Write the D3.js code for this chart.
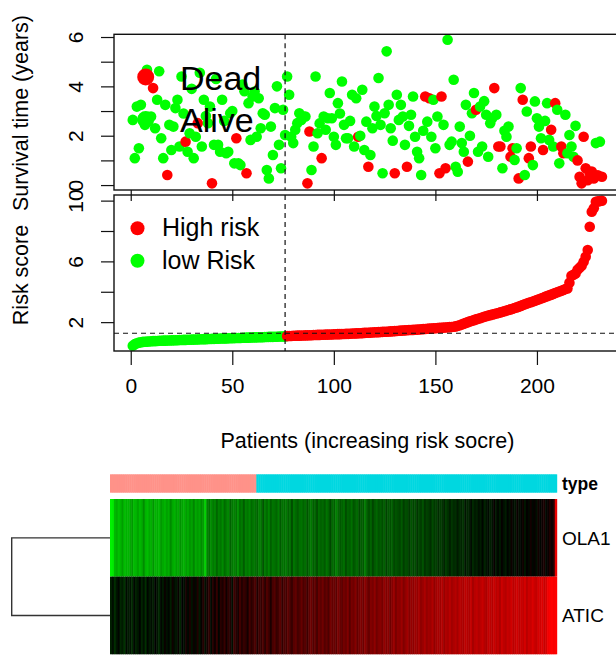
<!DOCTYPE html>
<html>
<head>
<meta charset="utf-8">
<script src="https://cdn.jsdelivr.net/npm/d3@7"></script>
<style>
  body { margin: 0; background: #fff; }
  svg { display: block; }
  text { font-family: "Liberation Sans", Arial, sans-serif; fill: #000; }
</style>
</head>
<body>
<svg id="chart" width="616" height="655"></svg>
<script>
// ---- data: patients sorted by increasing risk score ----
const nLowRisk = 76;
const riskCutoff = 1.27;

// survival time (years) per patient
const survivalTime = [
  2.64,1.09,3.18,1.49,3.25,2.71,2.44,4.67,2.71,2.78,
  3.93,2.30,3.46,4.61,1.90,1.09,3.25,0.41,2.44,1.42,
  2.37,3.12,3.46,1.56,4.40,2.90,1.76,1.35,2.10,3.90,
  1.09,1.96,2.51,4.55,1.56,3.46,2.80,2.51,3.18,0.07,
  1.63,4.30,1.63,1.35,3.46,2.60,1.29,1.35,2.91,3.00,
  0.88,1.90,0.88,0.81,4.07,3.80,0.48,3.32,1.83,3.59,
  3.79,1.96,3.52,2.30,2.91,2.85,0.61,0.27,2.37,1.22,
  3.12,4.00,1.63,0.68,3.05,2.03,
  4.40,3.66,1.96,1.70,2.24,2.51,2.91,2.64,2.78,2.78,
  0.07,2.17,0.61,1.56,4.40,2.10,2.50,1.09,2.78,2.24,
  2.71,3.73,2.71,1.96,1.63,3.32,2.90,4.20,2.44,1.90,
  1.90,2.60,3.66,1.56,3.52,1.96,2.00,3.86,1.42,2.57,
  0.74,1.22,2.30,3.18,2.80,4.34,2.44,0.48,2.91,5.42,
  3.25,2.30,1.80,0.48,3.66,2.64,3.25,2.78,1.63,0.74,
  2.40,2.85,3.59,1.96,1.35,1.09,0.41,2.20,3.59,2.57,
  3.52,1.96,3.46,1.49,2.78,0.48,3.59,2.44,0.68,5.89,
  1.63,1.76,4.27,0.74,0.54,2.37,1.70,1.35,3.25,0.95,
  2.00,2.91,3.73,3.05,1.35,3.18,1.56,3.40,2.85,1.15,
  2.51,2.71,3.93,2.85,1.56,1.56,0.68,2.20,1.96,2.37,
  1.15,1.49,1.02,1.49,0.27,3.93,3.46,0.41,2.98,1.09,
  1.56,0.81,3.39,2.71,2.37,1.90,1.42,2.60,3.32,1.83,
  2.24,1.56,3.32,3.05,0.88,1.56,1.29,2.85,1.29,2.03,
  1.56,1.15,2.40,1.00,0.34,0.07,1.96,0.68,0.20,0.48,
  0.55,0.27,1.70,0.40,1.76,0.34
];

// vital status per patient: 1 = dead, 0 = alive
const deadStatus = [
  0,0,0,0,0,0,0,0,0,0,
  1,0,0,0,0,0,0,1,0,0,
  0,0,0,0,0,0,1,0,0,0,
  0,0,1,0,0,0,0,0,0,1,
  0,0,0,0,0,0,0,0,0,0,
  0,1,0,0,0,0,1,0,0,0,
  0,0,0,0,0,0,0,0,0,0,
  0,0,0,0,0,0,
  0,0,0,0,0,0,0,0,0,0,
  1,1,0,0,0,0,0,1,0,0,
  0,0,0,0,0,0,0,0,0,0,
  0,0,0,0,0,1,0,0,0,0,
  1,0,0,0,0,0,0,0,0,0,
  0,0,0,1,0,0,0,0,0,1,
  0,0,0,0,0,0,0,0,1,0,
  1,0,0,0,0,1,1,0,1,0,
  0,0,0,0,0,0,0,0,0,1,
  0,0,0,1,0,0,0,0,0,0,
  0,0,1,0,1,1,0,0,0,0,
  1,1,0,0,1,0,1,0,0,1,
  1,0,0,0,0,0,1,0,0,0,
  1,0,1,0,0,1,1,0,0,0,
  0,0,0,1,1,1,1,1,1,1,
  1,1,0,1,0,1
];

// risk score per patient (sorted)
const riskScore = [
  0.45,0.55,0.61,0.65,0.68,0.70,0.71,0.72,0.73,0.74,
  0.75,0.75,0.76,0.77,0.77,0.78,0.78,0.79,0.79,0.80,
  0.80,0.81,0.81,0.82,0.82,0.83,0.83,0.84,0.84,0.85,
  0.85,0.86,0.86,0.87,0.87,0.88,0.88,0.89,0.89,0.90,
  0.90,0.91,0.91,0.92,0.92,0.93,0.93,0.94,0.94,0.95,
  0.95,0.96,0.96,0.96,0.97,0.97,0.98,0.98,0.99,0.99,
  1.00,1.00,1.01,1.01,1.01,1.02,1.02,1.03,1.03,1.03,
  1.04,1.04,1.05,1.05,1.05,1.06,
  1.08,1.09,1.09,1.10,1.10,1.11,1.11,1.12,1.12,1.13,
  1.13,1.14,1.14,1.15,1.15,1.16,1.16,1.17,1.17,1.18,
  1.18,1.19,1.19,1.20,1.20,1.21,1.21,1.22,1.22,1.23,
  1.23,1.24,1.25,1.25,1.26,1.27,1.27,1.28,1.29,1.30,
  1.30,1.31,1.32,1.33,1.33,1.34,1.35,1.36,1.37,1.37,
  1.38,1.39,1.40,1.41,1.42,1.43,1.44,1.45,1.46,1.47,
  1.48,1.48,1.49,1.50,1.51,1.52,1.53,1.54,1.55,1.56,
  1.57,1.58,1.59,1.60,1.61,1.62,1.63,1.64,1.65,1.66,
  1.67,1.68,1.70,1.72,1.76,1.80,1.85,1.90,1.95,2.00,
  2.05,2.09,2.13,2.18,2.22,2.26,2.31,2.35,2.39,2.43,
  2.46,2.50,2.53,2.57,2.60,2.64,2.68,2.72,2.76,2.80,
  2.84,2.88,2.93,2.97,3.02,3.07,3.12,3.17,3.22,3.27,
  3.31,3.36,3.41,3.46,3.51,3.56,3.61,3.66,3.71,3.76,
  3.81,3.86,3.92,3.97,4.02,4.07,4.12,4.18,4.22,4.60,
  5.05,5.12,5.20,5.45,5.58,5.72,5.98,6.30,6.75,8.28,
  9.27,9.49,9.93,9.95,9.97,9.99
];

// scaled expression of the two signature genes
const geneNames = ["OLA1", "ATIC"];
const exprOLA1 = [
  -0.95,-0.92,-0.72,-0.68,-0.75,-0.70,-0.62,-0.74,-0.69,-0.71,
  -0.66,-0.60,-0.73,-0.70,-0.64,-0.72,-0.68,-0.55,-0.70,-0.74,
  -0.66,-0.69,-0.58,-0.71,-0.67,-0.72,-0.60,-0.66,-0.70,-0.63,
  -0.68,-0.54,-0.65,-0.70,-0.62,-0.67,-0.57,-0.64,-0.69,-0.61,
  -0.66,-0.58,-0.63,-0.52,-0.66,-0.60,-0.65,-0.55,-0.62,-0.82,
  -0.50,-0.44,-0.55,-0.48,-0.52,-0.40,-0.50,-0.46,-0.54,-0.42,
  -0.49,-0.53,-0.38,-0.47,-0.51,-0.45,-0.56,-0.43,-0.48,-0.36,
  -0.50,-0.46,-0.52,-0.41,-0.47,-0.44,-0.39,-0.50,-0.45,-0.33,
  -0.48,-0.42,-0.51,-0.37,-0.46,-0.44,-0.40,-0.49,-0.35,-0.45,
  -0.42,-0.47,-0.38,-0.44,-0.30,-0.46,-0.41,-0.36,-0.43,-0.45,
  -0.39,-0.44,-0.33,-0.42,-0.47,-0.37,-0.40,-0.31,-0.43,-0.38,
  -0.41,-0.35,-0.45,-0.39,-0.28,-0.42,-0.37,-0.50,-0.40,-0.34,
  -0.38,-0.43,-0.30,-0.39,-0.36,-0.44,-0.33,-0.38,-0.41,-0.29,
  -0.37,-0.34,-0.48,-0.36,-0.31,-0.39,-0.27,-0.35,-0.40,-0.32,
  -0.36,-0.30,-0.38,-0.26,-0.34,-0.31,-0.37,-0.28,-0.33,-0.30,
  -0.27,-0.35,-0.24,-0.31,-0.29,-0.22,-0.33,-0.26,-0.30,-0.21,
  -0.28,-0.24,-0.32,-0.20,-0.26,-0.23,-0.18,-0.29,-0.22,-0.25,
  -0.17,-0.23,-0.20,-0.14,-0.24,-0.19,-0.12,-0.21,-0.16,-0.18,
  -0.10,-0.17,-0.14,-0.20,-0.08,-0.15,-0.12,-0.05,-0.16,-0.10,
  -0.13,-0.06,-0.11,-0.02,-0.14,-0.08,-0.04,-0.12,-0.07,0.03,
  -0.09,-0.03,-0.10,0.02,-0.06,-0.11,-0.01,-0.07,0.05,-0.04,
  -0.08,0.04,-0.05,-0.02,0.06,-0.09,0.01,-0.04,0.08,-0.03,
  0.03,-0.06,0.07,-0.02,0.05,0.10,-0.03,0.04,0.12,0.06,
  0.15,0.92
];
const exprATIC = [
  -0.12,-0.05,-0.18,-0.08,-0.02,-0.15,-0.10,-0.20,-0.04,-0.11,
  -0.07,-0.16,-0.03,-0.13,-0.09,-0.01,-0.14,-0.06,-0.19,-0.02,
  -0.10,-0.05,-0.12,0.00,-0.08,-0.15,-0.03,-0.10,0.04,-0.07,
  -0.02,-0.12,0.06,-0.05,-0.09,0.03,-0.14,0.00,-0.06,0.08,
  -0.03,0.10,-0.08,0.05,-0.04,0.12,-0.10,0.02,0.15,-0.06,
  0.08,0.18,-0.04,0.14,0.05,0.20,-0.02,0.16,0.10,0.22,
  0.06,0.19,0.12,-0.05,0.24,0.15,0.09,0.26,0.13,0.21,
  0.18,0.08,0.27,0.16,0.23,0.30,0.12,0.25,0.20,0.29,
  0.17,0.31,0.24,0.10,0.28,0.33,0.21,0.26,0.35,0.19,
  0.30,0.25,0.36,0.28,0.22,0.34,0.38,0.27,0.31,0.40,
  0.29,0.35,0.24,0.37,0.42,0.32,0.38,0.28,0.41,0.36,
  0.44,0.33,0.39,0.30,0.46,0.38,0.42,0.35,0.48,0.40,
  0.37,0.45,0.41,0.50,0.34,0.47,0.43,0.52,0.39,0.46,
  0.49,0.42,0.54,0.45,0.40,0.51,0.47,0.56,0.44,0.50,
  0.53,0.46,0.58,0.49,0.55,0.43,0.52,0.60,0.48,0.56,
  0.54,0.61,0.50,0.57,0.63,0.52,0.59,0.55,0.62,0.58,
  0.65,0.56,0.60,0.67,0.58,0.63,0.61,0.69,0.57,0.64,
  0.66,0.62,0.70,0.60,0.68,0.65,0.72,0.63,0.67,0.71,
  0.64,0.73,0.69,0.66,0.74,0.70,0.68,0.76,0.65,0.72,
  0.75,0.69,0.73,0.78,0.71,0.67,0.77,0.74,0.70,0.79,
  0.72,0.76,0.68,0.80,0.74,0.71,0.78,0.75,0.82,0.73,
  0.77,0.81,0.74,0.79,0.76,0.83,0.72,0.80,0.78,0.85,
  0.79,0.76,0.84,0.81,0.87,0.78,0.83,0.95,0.98,1.00,
  0.97,1.00
];

const xTickValues = [0, 50, 100, 150, 200];
const timeTicks = [0, 1, 2, 3, 4, 5, 6];
const timeLabels = [0, 2, 4, 6];
const riskTicks = [2, 4, 6, 8, 10];
const riskLabels = [2, 6, 10];

// ---- drawing ----
const nPatients = riskScore.length;
const patients = d3.range(1, nPatients + 1);
const svg = d3.select("#chart");

const RED = "#ff0000", GREEN = "#00ff00";
const plotL = 114, plotR = 620.7;
const top1 = 34.3, bot1 = 190, top2 = 195, bot2 = 351;
const ptR = 5.3;
const axisFont = "21px";
const titleFont = "21.5px";

const x = d3.scaleLinear().domain([-8.24, 241.24]).range([plotL, plotR]);
const yTime = d3.scaleLinear().domain([-0.2, 6.11]).range([bot1, top1]);
const yRisk = d3.scaleLinear().domain([0.1, 10.37]).range([bot2, top2]);

function leftAxis(g, scale, ticks, labels) {
  g.call(d3.axisLeft(scale).tickValues(ticks).tickSize(13).tickSizeOuter(0)
      .tickFormat(d => labels.includes(d) ? d : ""));
  g.select(".domain").remove();
  g.selectAll(".tick line").attr("stroke", "#111").attr("stroke-width", 1.2);
  g.selectAll(".tick text")
    .attr("x", null).attr("dy", null)
    .attr("text-anchor", "middle")
    .attr("transform", "translate(-31.5,0) rotate(-90)")
    .style("font-size", axisFont)
    .style("font-family", "'Liberation Sans', Arial, sans-serif")
    .attr("fill", "#000");
}

// survival panel
const gTop = svg.append("g");
gTop.selectAll("circle").data(patients).join("circle")
  .attr("cx", d => x(d))
  .attr("cy", d => yTime(survivalTime[d - 1]))
  .attr("r", ptR)
  .attr("fill", d => deadStatus[d - 1] ? RED : GREEN);

// legend of the survival panel
const legTop = [{ label: "Dead", color: RED }, { label: "Alive", color: GREEN }];
legTop.forEach((d, i) => {
  svg.append("circle").attr("cx", 145.7).attr("cy", 77 + i * 42.5).attr("r", 8.5).attr("fill", d.color);
  svg.append("text").attr("x", 180).attr("y", 90 + i * 42).text(d.label).style("font-size", "34px");
});

svg.append("rect").attr("x", plotL).attr("y", top1).attr("width", plotR - plotL).attr("height", bot1 - top1)
  .attr("fill", "none").attr("stroke", "#111").attr("stroke-width", 1.4);
leftAxis(svg.append("g").attr("transform", `translate(${plotL},0)`), yTime, timeTicks, timeLabels);

// tick marks under the survival panel
const gxTop = svg.append("g").attr("transform", `translate(0,${bot1})`)
  .call(d3.axisBottom(x).tickValues(xTickValues).tickSize(11).tickFormat(""));
gxTop.select(".domain").remove();
gxTop.selectAll(".tick line").attr("stroke", "#111").attr("stroke-width", 1.2);

// risk score panel
const gBot = svg.append("g");
gBot.selectAll("circle").data(patients).join("circle")
  .attr("cx", d => x(d))
  .attr("cy", d => yRisk(riskScore[d - 1]))
  .attr("r", ptR)
  .attr("fill", d => d <= nLowRisk ? GREEN : RED);

svg.append("rect").attr("x", plotL).attr("y", top2).attr("width", plotR - plotL).attr("height", bot2 - top2)
  .attr("fill", "none").attr("stroke", "#111").attr("stroke-width", 1.4);
leftAxis(svg.append("g").attr("transform", `translate(${plotL},0)`), yRisk, riskTicks, riskLabels);

const gxBot = svg.append("g").attr("transform", `translate(0,${bot2})`)
  .call(d3.axisBottom(x).tickValues(xTickValues).tickSize(14));
gxBot.select(".domain").remove();
gxBot.selectAll(".tick line").attr("stroke", "#111").attr("stroke-width", 1.2);
gxBot.selectAll(".tick text").attr("y", 41.5).attr("dy", null)
  .style("font-size", axisFont).style("font-family", "'Liberation Sans', Arial, sans-serif").attr("fill", "#000");

// cut-off lines
const dash = "5,4";
[[top1, bot1], [top2, bot2]].forEach(([a, b]) => {
  svg.append("line").attr("x1", x(nLowRisk)).attr("x2", x(nLowRisk)).attr("y1", a).attr("y2", b)
    .attr("stroke", "#111").attr("stroke-width", 1.2).attr("stroke-dasharray", dash);
});
svg.append("line").attr("x1", plotL).attr("x2", plotR).attr("y1", yRisk(riskCutoff)).attr("y2", yRisk(riskCutoff))
  .attr("stroke", "#111").attr("stroke-width", 1.2).attr("stroke-dasharray", dash);

// legend of the risk panel
const legBot = [{ label: "High risk", color: RED }, { label: "low Risk", color: GREEN }];
legBot.forEach((d, i) => {
  svg.append("circle").attr("cx", 137.5).attr("cy", 228.3 + i * 32.5).attr("r", 7).attr("fill", d.color);
  svg.append("text").attr("x", 162).attr("y", 235.5 + i * 33).text(d.label).style("font-size", "25px");
});

// axis titles
svg.append("text").attr("transform", "translate(28,113) rotate(-90)").attr("text-anchor", "middle")
  .style("font-size", titleFont).text("Survival time (years)");
svg.append("text").attr("transform", "translate(28,275) rotate(-90)").attr("text-anchor", "middle")
  .style("font-size", titleFont).text("Risk score");
svg.append("text").attr("x", (plotL + plotR) / 2).attr("y", 448).attr("text-anchor", "middle")
  .style("font-size", titleFont).text("Patients (increasing risk socre)");

// ---- heatmap ----
const hx = d3.scaleBand().domain(patients).range([110, 556.7]).padding(0);
const hy = d3.scaleBand().domain(geneNames).range([499, 654.3]).padding(0);
const heatColor = d3.scaleLinear().domain([-1, 0, 1]).range(["#00ff00", "#000000", "#ff0000"]).clamp(true);
const exprByGene = { OLA1: exprOLA1, ATIC: exprATIC };
const typeColor = d => d <= nLowRisk ? "#ff9289" : "#00d7e0";

const gHeat = svg.append("g");
gHeat.selectAll("rect.type").data(patients).join("rect").attr("class", "type")
  .attr("x", d => hx(d)).attr("width", hx.bandwidth() + 0.5)
  .attr("y", 474.3).attr("height", 18.4)
  .attr("fill", typeColor);

geneNames.forEach(g => {
  gHeat.selectAll(`rect.g-${g}`).data(patients).join("rect").attr("class", `g-${g}`)
    .attr("x", d => hx(d)).attr("width", hx.bandwidth() + 0.5)
    .attr("y", hy(g)).attr("height", hy.bandwidth())
    .attr("fill", d => heatColor(exprByGene[g][d - 1]));
  svg.append("text").attr("x", 562).attr("y", hy(g) + hy.bandwidth() / 2 + 7)
    .style("font-size", "19px").text(g);
});
svg.append("text").attr("x", 562).attr("y", 490).style("font-size", "17.5px")
  .style("font-weight", "bold").text("type");

// row dendrogram
const rowMid = geneNames.map(g => hy(g) + hy.bandwidth() / 2);
svg.append("path")
  .attr("d", `M110,${rowMid[0]} H11.7 V${rowMid[1]} H110`)
  .attr("fill", "none").attr("stroke", "#333").attr("stroke-width", 1.4);
</script>
</body>
</html>
